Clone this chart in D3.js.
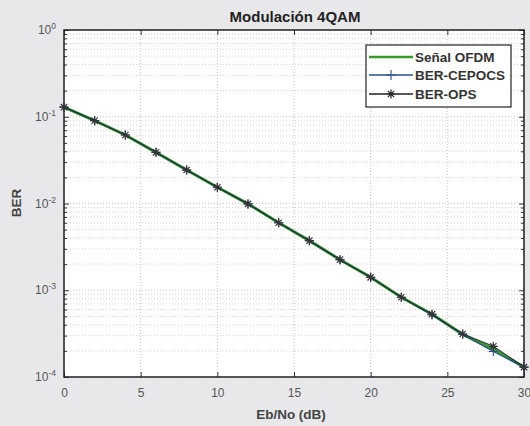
<!DOCTYPE html>
<html><head><meta charset="utf-8">
<script src="https://cdn.jsdelivr.net/npm/d3@7"></script>
<style>
body{margin:0;background:#e8e8eb;}
svg{display:block;font-family:"Liberation Sans",Arial,sans-serif;}
</style></head>
<body>
<script>
const snr = [0,2,4,6,8,10,12,14,16,18,20,22,24,26,28,30];
const berOFDM   = [0.129,0.090,0.0616,0.0389,0.0243,0.0154,0.0099,0.0060,0.00373,0.00225,0.00141,0.00083,0.00053,0.00031,0.000210,0.000130];
const berCEPOCS = [0.129,0.090,0.0616,0.0389,0.0243,0.0154,0.0099,0.0060,0.00373,0.00225,0.00141,0.00083,0.00052,0.00031,0.000197,0.000130];
const berOPS    = [0.129,0.090,0.0616,0.0389,0.0243,0.0154,0.0099,0.0060,0.00373,0.00225,0.00141,0.00083,0.00053,0.000313,0.000226,0.000130];
const xTicks = [0,5,10,15,20,25,30];
const yTicks = [1,1e-1,1e-2,1e-3,1e-4];
const yTickExp = ["0","-1","-2","-3","-4"];
const seriesNames = ["Señal OFDM","BER-CEPOCS","BER-OPS"];

const W=530,H=426;
const m={l:64,t:30,r:524,b:377};
const svg=d3.select("body").append("svg").attr("width",W).attr("height",H);
svg.append("rect").attr("width",W).attr("height",H).attr("fill","#e8e8eb");
const x=d3.scaleLinear().domain([0,30]).range([m.l,m.r]);
const y=d3.scaleLog().domain([1e-4,1]).range([m.b,m.t]);
svg.append("rect").attr("x",m.l).attr("y",m.t).attr("width",m.r-m.l).attr("height",m.b-m.t).attr("fill","#fff");

const grid=svg.append("g").attr("stroke","#b8b8b8").attr("stroke-width",0.8).attr("stroke-dasharray","1,2");
const minor=[];
for(let e=-4;e<0;e++){for(let k=2;k<=9;k++)minor.push(k*Math.pow(10,e));}
minor.forEach(v=>grid.append("line").attr("x1",m.l).attr("x2",m.r).attr("y1",y(v)).attr("y2",y(v)).attr("stroke","#c8c8c8"));
yTicks.forEach(v=>grid.append("line").attr("x1",m.l).attr("x2",m.r).attr("y1",y(v)).attr("y2",y(v)));
xTicks.forEach(v=>grid.append("line").attr("x1",x(v)).attr("x2",x(v)).attr("y1",m.t).attr("y2",m.b));

const ax=svg.append("g").attr("transform",`translate(0,${m.b})`).call(d3.axisBottom(x).tickValues(xTicks).tickSize(-5).tickPadding(11).tickFormat(d3.format("d")));
const axT=svg.append("g").attr("transform",`translate(0,${m.t})`).call(d3.axisTop(x).tickValues(xTicks).tickSize(-5).tickFormat(""));
const ay=svg.append("g").attr("transform",`translate(${m.l},0)`).call(d3.axisLeft(y).tickValues(yTicks).tickSize(-5).tickFormat(""));
const ayR=svg.append("g").attr("transform",`translate(${m.r},0)`).call(d3.axisRight(y).tickValues(yTicks).tickSize(-5).tickFormat(""));
const ayMin=svg.append("g").attr("transform",`translate(${m.l},0)`).call(d3.axisLeft(y).tickValues(minor).tickSize(-3).tickFormat(""));
const ayMinR=svg.append("g").attr("transform",`translate(${m.r},0)`).call(d3.axisRight(y).tickValues(minor).tickSize(-3).tickFormat(""));
[ax,axT,ay,ayR,ayMin,ayMinR].forEach(g=>{g.select(".domain").remove();g.selectAll(".tick line").attr("stroke","#333");});
ax.selectAll("text").attr("font-size",12).attr("fill","#555");

yTicks.forEach((v,i)=>{
  const t=svg.append("text").attr("x",m.l-8).attr("y",y(v)+4).attr("text-anchor","end").attr("font-size",12).attr("fill","#555");
  t.append("tspan").text("10");
  t.append("tspan").attr("dy",-5).attr("font-size",8.5).text(yTickExp[i]);
});

svg.append("rect").attr("x",m.l).attr("y",m.t).attr("width",m.r-m.l).attr("height",m.b-m.t).attr("fill","none").attr("stroke","#222").attr("stroke-width",1.5);

const line=d3.line().x((d,i)=>x(snr[i])).y(d=>y(d));
svg.append("path").datum(berOFDM).attr("d",line).attr("fill","none").attr("stroke","#3a9a2a").attr("stroke-width",3);
svg.append("path").datum(berCEPOCS).attr("d",line).attr("fill","none").attr("stroke","#2a4f8a").attr("stroke-width",1.3);
svg.append("path").datum(berOPS).attr("d",line).attr("fill","none").attr("stroke","#1f3a30").attr("stroke-width",1.2);

function plus(g,cx,cy,s,c){g.append("path").attr("d",`M${cx-s},${cy}H${cx+s}M${cx},${cy-s}V${cy+s}`).attr("stroke",c).attr("stroke-width",1.1).attr("fill","none");}
function star(g,cx,cy,s,c){const d=s*0.7;g.append("path").attr("d",`M${cx-s},${cy}H${cx+s}M${cx},${cy-s}V${cy+s}M${cx-d},${cy-d}L${cx+d},${cy+d}M${cx-d},${cy+d}L${cx+d},${cy-d}`).attr("stroke",c).attr("stroke-width",1.2).attr("fill","none");}
const mk=svg.append("g");
berCEPOCS.forEach((v,i)=>plus(mk,x(snr[i]),y(v),4.5,"#2a4f8a"));
berOPS.forEach((v,i)=>star(mk,x(snr[i]),y(v),4.5,"#333"));

svg.append("text").attr("x",295).attr("y",22).attr("text-anchor","middle").attr("font-size",15).attr("font-weight","bold").attr("fill","#222").text("Modulación 4QAM");
svg.append("text").attr("x",291).attr("y",419).attr("text-anchor","middle").attr("font-size",13.5).attr("font-weight","bold").attr("fill","#444").text("Eb/No (dB)");
svg.append("text").attr("transform","translate(21,203) rotate(-90)").attr("text-anchor","middle").attr("font-size",13.5).attr("font-weight","bold").attr("fill","#444").text("BER");

const lg=svg.append("g");
lg.append("rect").attr("x",366).attr("y",45).attr("width",145).attr("height",62).attr("fill","#fff").attr("stroke","#222").attr("stroke-width",1.2);
const ly=[57,75,94];
const lcol=["#3a9a2a","#2a4f8a","#222"];
seriesNames.forEach((n,i)=>{
  lg.append("line").attr("x1",369).attr("x2",413).attr("y1",ly[i]).attr("y2",ly[i]).attr("stroke",lcol[i]).attr("stroke-width",i===0?2.5:1.3);
  if(i===1)plus(lg,391,ly[i],5,lcol[i]);
  if(i===2)star(lg,391,ly[i],4.5,lcol[i]);
  lg.append("text").attr("x",415).attr("y",ly[i]+5).attr("font-size",13.5).attr("font-weight","bold").attr("fill","#333").text(n);
});
</script>
</body></html>
